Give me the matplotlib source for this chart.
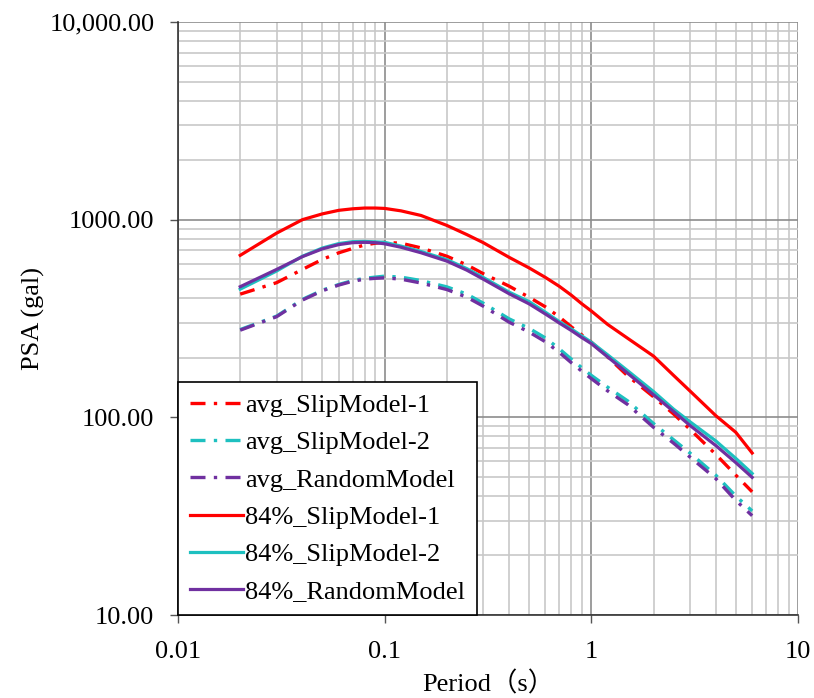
import matplotlib
matplotlib.use("Agg")
import matplotlib.pyplot as plt
from matplotlib.ticker import FixedLocator, FixedFormatter, LogLocator, NullFormatter

plt.rcParams['font.family'] = ['Liberation Serif', 'Noto Sans CJK SC', 'DejaVu Sans']

# periods (s)
period = [0.02, 0.03, 0.04, 0.05, 0.06, 0.07, 0.08, 0.09, 0.1, 0.12, 0.15, 0.2, 0.25,
          0.3, 0.4, 0.5, 0.6, 0.7, 0.8, 0.9, 1.0, 1.2, 1.5, 2.0, 2.5, 3.0, 4.0, 5.0, 6.0]

# PSA (gal)
avg_slip1 = [420, 480, 560, 630, 680, 715, 745, 760, 768, 760, 720, 653, 590,
             533, 461, 405, 362, 322, 287, 261, 240, 202, 162, 127, 104, 87, 65, 51, 42]
avg_slip2 = [278, 325, 395, 440, 470, 492, 505, 512, 518, 512, 492, 457, 420,
             378, 315, 282, 252, 222, 197, 178, 163, 142, 121, 93, 77, 66, 51, 40, 33.6]
avg_random = [276, 323, 392, 437, 467, 488, 500, 505, 508, 500, 478, 443, 405,
              365, 303, 270, 241, 213, 189, 171, 157, 136, 116, 89, 74, 63, 49, 38, 31.8]
p84_slip1 = [660, 855, 1000, 1070, 1115, 1135, 1145, 1145, 1140, 1108, 1050, 935, 840,
             765, 645, 570, 510, 460, 415, 375, 345, 295, 251, 204, 163, 136, 102, 84, 66]
p84_slip2 = [445, 550, 653, 719, 757, 774, 776, 772, 768, 735, 690, 628, 565,
             510, 430, 385, 340, 305, 280, 258, 240, 207, 172, 135, 110, 95, 76, 62, 52]
p84_random = [458, 560, 650, 712, 748, 765, 768, 765, 755, 725, 680, 617, 555,
              500, 422, 375, 333, 300, 275, 253, 236, 202, 167, 130, 107, 91, 72, 59, 49.7]

labels = ['avg_SlipModel-1', 'avg_SlipModel-2', 'avg_RandomModel',
          '84%_SlipModel-1', '84%_SlipModel-2', '84%_RandomModel']

y_ticks = [10, 100, 1000, 10000]
y_tick_labels = ['10.00', '100.00', '1000.00', '10,000.00']
x_ticks = [0.01, 0.1, 1, 10]
x_tick_labels = ['0.01', '0.1', '1', '10']

red = '#FF0000'
cyan = '#1EC0C0'
purple = '#7030A0'
dashdot = (0, (4.5, 2.5, 1, 2.5))

fig = plt.figure(figsize=(8.14, 6.98), dpi=100)
ax = fig.add_axes([178 / 814, 1 - 615 / 698, 620 / 814, 593 / 698])

ax.plot(period, avg_slip1, color=red, lw=2.4, ls=dashdot, label=labels[0])
ax.plot(period, avg_slip2, color=cyan, lw=2.4, ls=dashdot, label=labels[1])
ax.plot(period, avg_random, color=purple, lw=2.4, ls=dashdot, label=labels[2])
ax.plot(period, p84_slip1, color=red, lw=2.3, label=labels[3])
ax.plot(period, p84_slip2, color=cyan, lw=2.3, label=labels[4])
ax.plot(period, p84_random, color=purple, lw=2.3, label=labels[5])

ax.set_xscale('log')
ax.set_yscale('log')
ax.set_xlim(0.01, 10)
ax.set_ylim(10, 10000)

ax.xaxis.set_major_locator(FixedLocator(x_ticks))
ax.xaxis.set_major_formatter(FixedFormatter(x_tick_labels))
ax.yaxis.set_major_locator(FixedLocator(y_ticks))
ax.yaxis.set_major_formatter(FixedFormatter(y_tick_labels))
ax.xaxis.set_minor_locator(LogLocator(base=10, subs=range(2, 10)))
ax.yaxis.set_minor_locator(LogLocator(base=10, subs=range(2, 10)))
ax.xaxis.set_minor_formatter(NullFormatter())
ax.yaxis.set_minor_formatter(NullFormatter())

ax.grid(which='major', color='#8C8C8C', lw=1.2)
ax.grid(which='minor', color='#C8C8C8', lw=1.2)
ax.set_axisbelow(True)

ax.tick_params(which='major', direction='out', length=6, width=1, color='#555555',
               labelsize=19)
ax.tick_params(axis='x', which='major', pad=13)
ax.tick_params(axis='y', which='major', pad=11)
ax.tick_params(which='minor', length=0)

for side in ['top', 'right']:
    ax.spines[side].set_visible(False)
for side in ['left', 'bottom']:
    ax.spines[side].set_color('#333333')
    ax.spines[side].set_linewidth(1.2)

ax.set_ylabel('PSA (gal)', fontsize=19, labelpad=3)
ax.set_xlabel('Period（s）', fontsize=19, labelpad=6)

leg = ax.legend(loc='lower left', bbox_to_anchor=(0, 0), borderaxespad=0,
                fontsize=19, frameon=True, fancybox=False, framealpha=1,
                handlelength=2.0, handletextpad=0.1, labelspacing=0.52,
                borderpad=0.45)
leg.get_frame().set_edgecolor('black')
leg.get_frame().set_linewidth(1.2)

fig.savefig('out.png', dpi=100)
